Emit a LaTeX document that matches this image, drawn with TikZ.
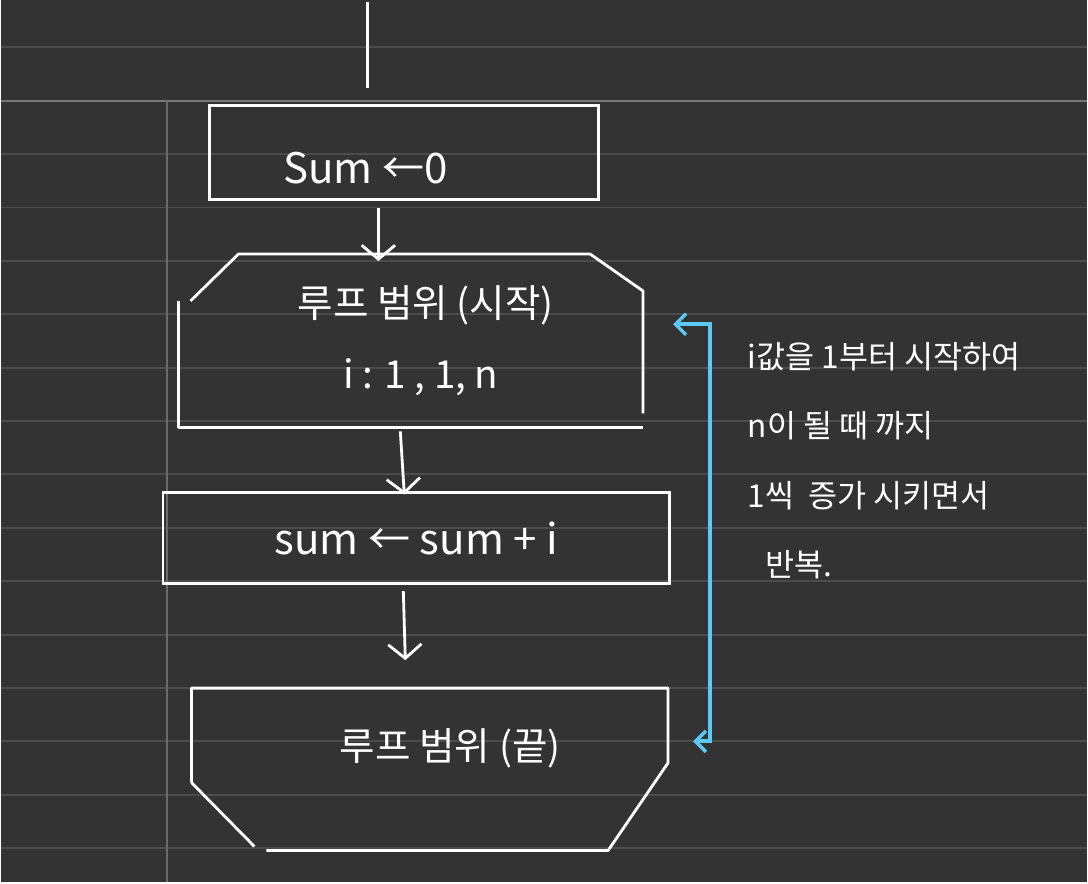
\documentclass[tikz,border=0pt]{standalone}
\usepackage{fontspec}
\setmainfont{Noto Sans CJK KR}
\usetikzlibrary{arrows.meta, calc}

\definecolor{board}{HTML}{333333}
\definecolor{ruleline}{HTML}{4C4C4C}
\definecolor{headline}{HTML}{787878}
\definecolor{marginline}{HTML}{6A6A6A}
\definecolor{loopblue}{HTML}{5BC8F5}

\begin{document}
\begin{tikzpicture}[x=0.02cm, y=-0.02cm,
        procbox/.style={rectangle, draw=white, line width=1.6pt, inner sep=0pt,
        text=white, font=\fontsize{24}{28}\selectfont},
        loopbox/.style={rectangle, inner sep=0pt,
        text=white, align=center, font=\fontsize{22}{41}\selectfont},
        boxtext/.style={text=white, font=\fontsize{22}{26}\selectfont},
        note/.style={text=white, align=left, inner sep=0pt, font=\fontsize{18}{39.5}\selectfont},
        flow/.style={-{Straight Barb[length=8pt, width=19pt, line width=1.6pt]}, draw=white, line width=1.6pt},
        plain/.style={draw=white, line width=1.6pt, line join=round},
        loopback/.style={{Straight Barb[length=6pt, width=12pt, line width=2pt]}-{Straight Barb[length=6pt, width=12pt, line width=2pt]},
        draw=loopblue, line width=2.2pt}
    ]
        % Lined paper
        \fill[board] (0,0) rectangle (1088,884);
        \foreach \k in {-1,1,2,...,14}
            \draw[ruleline, line width=1.1pt] (0,101+53.5*\k) -- (1088,101+53.5*\k);
        \draw[headline, line width=1.4pt] (0,101) -- (1088,101);
        \draw[marginline, line width=1.3pt] (166,101) -- (166,884);

        % Flowchart boxes
        \coordinate (entry) at (367,2);
        \coordinate (entryend) at (367,88);
        \node[procbox, minimum width=7.8cm, minimum height=1.88cm,
            label={[boxtext, font=\fontsize{24}{28}\selectfont, xshift=-0.78cm, yshift=-0.3cm]center:Sum ←0}]
            (init) at (404,153) {};
        \node[loopbox, minimum width=9.3cm, minimum height=3.46cm]
            (start) at (410.5,341.5) {\hspace*{0.6cm}루프 범위 (시작)\\\hspace*{0.4cm}i : 1 , 1, n};
        \node[procbox, minimum width=10.16cm, minimum height=1.82cm]
            (body) at (416,539.5) {sum ← sum + i};
        \node[loopbox, minimum width=9.54cm, minimum height=3.24cm,
            label={[boxtext, xshift=0.41cm, yshift=0.42cm]center:루프 범위 (끝)}]
            (stop) at (429.5,771) {};

        % Chamfered outlines of the loop boxes
        \draw[plain] ($(start.north west)+(12,47)$) -- ($(start.north west)+(60,0)$)
            -- ($(start.north east)+(-53,0)$) -- ($(start.north east)+(0,37)$)
            -- ($(start.south east)+(0,-14)$);
        \draw[plain] ($(start.north west)+(0,47)$) -- (start.south west) -- (start.south east);
        \draw[plain] ($(stop.south west)+(0,-68)$) -- (stop.north west) -- (stop.north east)
            -- ($(stop.north east)+(0,75)$) -- ($(stop.south east)+(-60,0)$)
            -- ($(stop.south west)+(75,0)$);
        \draw[plain] ($(stop.south west)+(0,-68)$) -- ($(stop.south west)+(63,-4)$);

        % Note beside the loop
        \node[note, anchor=north west] (memo) at (748,343)
            {i값을 1부터 시작하여\\n이 될 때 까지\\1씩~ 증가 시키면서\\\hspace*{0.36cm}반복.};

        % Arrows
        \draw[plain] (entry) -- (entryend);
        \draw[flow] ($(init.south)+(-26,7)$) -- ($(start.north)+(-32.5,7)$);
        \draw[flow] ($(start.south)+(-10.5,4)$) -- ($(body.north)+(-12,3)$);
        \draw[flow] ($(body.south)+(-13,6)$) -- ($(stop.north)+(-24.5,-28)$);

        % Loop back
        \draw[loopback] ($(stop.east)+(25,-28)$) -- ++(17,0) |- ($(start.east)+(30,-16.5)$);

    \end{tikzpicture}
\end{document}
